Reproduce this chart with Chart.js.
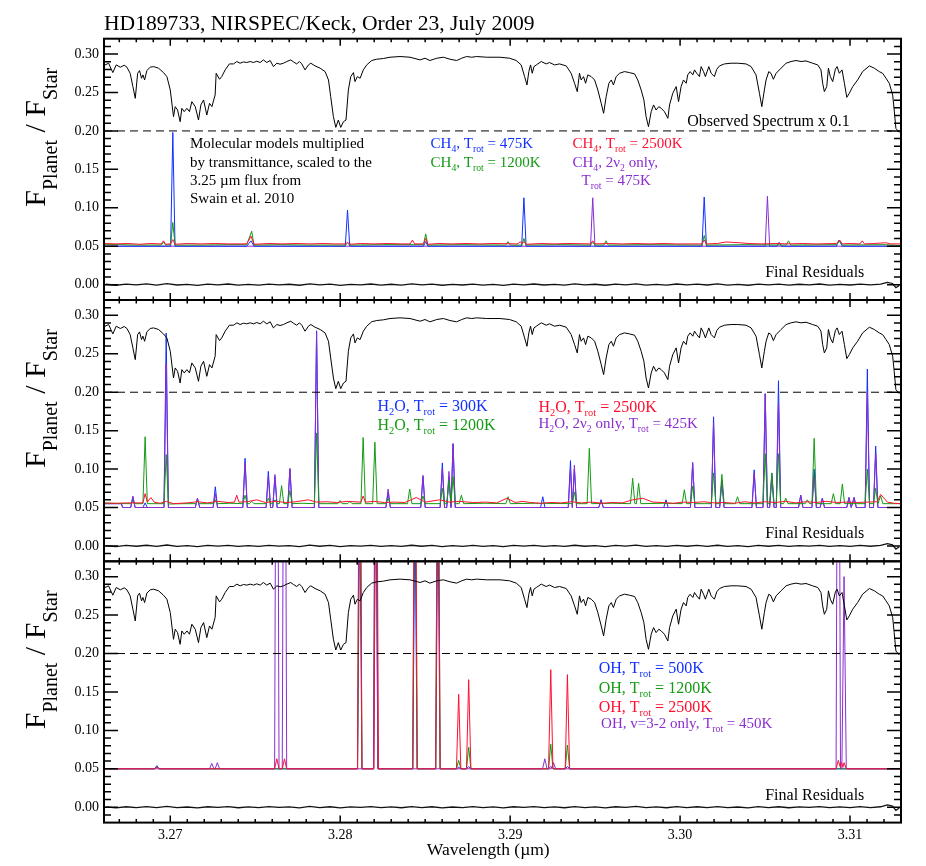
<!DOCTYPE html>
<html><head><meta charset="utf-8">
<script src="https://cdn.jsdelivr.net/npm/chart.js@4.4.0/dist/chart.umd.min.js"></script>
<style>
html,body{margin:0;padding:0;background:#fff;}
#wrap{position:relative;width:926px;height:866px;overflow:hidden;background:#fff;}
#wrap canvas{position:absolute;left:0;top:0;}
</style></head><body>
<div id="wrap">
<canvas id="c1" width="926" height="866"></canvas>
<canvas id="c2" width="926" height="866"></canvas>
<canvas id="c3" width="926" height="866"></canvas>
</div>
<script>
// ---------------- axis values ----------------
const xRange = [3.2661, 3.3130];
const yRange = [-0.02, 0.32];
const xTickValues = [3.27, 3.28, 3.29, 3.30, 3.31];
const yTickValues = [0.00, 0.05, 0.10, 0.15, 0.20, 0.25, 0.30];
const dashedLevel = 0.20;

// ---------------- observed spectrum x 0.1 (same in all panels) ----------------
const obsSpectrum = [
[3.26612,0.2880],[3.26617,0.2859],[3.26637,0.2881],[3.26662,0.2759],[3.26682,0.2859],[3.26706,0.2829],[3.26729,0.2855],[3.26745,0.2829],[3.26764,0.2750],[3.26780,0.2577],[3.26794,0.2424],[3.26808,0.2750],[3.26819,0.2785],[3.26831,0.2685],[3.26839,0.2729],[3.26849,0.2663],[3.26862,0.2785],[3.26882,0.2829],[3.26902,0.2837],[3.26931,0.2816],[3.26960,0.2759],[3.26980,0.2707],[3.27000,0.2533],[3.27019,0.2185],[3.27029,0.2316],[3.27043,0.2272],[3.27058,0.2120],[3.27068,0.2294],[3.27082,0.2251],[3.27098,0.2294],[3.27113,0.2251],[3.27127,0.2381],[3.27147,0.2316],[3.27166,0.2142],[3.27180,0.2338],[3.27196,0.2403],[3.27215,0.2207],[3.27231,0.2359],[3.27245,0.2316],[3.27264,0.2468],[3.27270,0.2750],[3.27290,0.2672],[3.27303,0.2707],[3.27323,0.2794],[3.27348,0.2872],[3.27372,0.2872],[3.27392,0.2903],[3.27411,0.2881],[3.27431,0.2898],[3.27450,0.2890],[3.27470,0.2903],[3.27490,0.2890],[3.27509,0.2907],[3.27529,0.2890],[3.27548,0.2924],[3.27568,0.2890],[3.27588,0.2916],[3.27607,0.2837],[3.27627,0.2881],[3.27646,0.2868],[3.27666,0.2881],[3.27686,0.2903],[3.27709,0.2924],[3.27725,0.2898],[3.27744,0.2872],[3.27760,0.2903],[3.27774,0.2872],[3.27793,0.2794],[3.27813,0.2859],[3.27827,0.2881],[3.27852,0.2846],[3.27882,0.2816],[3.27911,0.2772],[3.27931,0.2663],[3.27944,0.2446],[3.27960,0.2185],[3.27974,0.2046],[3.27989,0.2142],[3.28003,0.2046],[3.28019,0.2120],[3.28034,0.2142],[3.28048,0.2533],[3.28062,0.2707],[3.28078,0.2759],[3.28087,0.2642],[3.28101,0.2707],[3.28117,0.2685],[3.28136,0.2794],[3.28156,0.2859],[3.28185,0.2916],[3.28215,0.2933],[3.28254,0.2942],[3.28293,0.2959],[3.28352,0.2968],[3.28411,0.2959],[3.28470,0.2924],[3.28499,0.2946],[3.28528,0.2916],[3.28568,0.2946],[3.28607,0.2959],[3.28646,0.2933],[3.28685,0.2916],[3.28715,0.2946],[3.28744,0.2968],[3.28774,0.2959],[3.28803,0.2968],[3.28862,0.2959],[3.28940,0.2959],
[3.28997,0.2946],[3.29036,0.2916],[3.29065,0.2859],[3.29085,0.2707],[3.29099,0.2598],[3.29110,0.2772],[3.29120,0.2859],[3.29130,0.2750],[3.29140,0.2837],[3.29154,0.2859],[3.29183,0.2903],[3.29212,0.2872],[3.29232,0.2890],[3.29261,0.2859],[3.29291,0.2872],[3.29330,0.2846],[3.29359,0.2750],[3.29379,0.2620],[3.29395,0.2511],[3.29408,0.2750],[3.29418,0.2663],[3.29432,0.2707],[3.29444,0.2620],[3.29457,0.2729],[3.29477,0.2707],[3.29497,0.2663],[3.29516,0.2533],[3.29536,0.2359],[3.29550,0.2229],[3.29565,0.2446],[3.29581,0.2620],[3.29595,0.2663],[3.29608,0.2598],[3.29624,0.2707],[3.29644,0.2750],[3.29673,0.2772],[3.29702,0.2759],[3.29732,0.2742],[3.29751,0.2663],[3.29771,0.2533],[3.29787,0.2403],[3.29800,0.2185],[3.29814,0.2055],[3.29830,0.2251],[3.29844,0.2338],[3.29859,0.2272],[3.29875,0.2316],[3.29889,0.2294],[3.29908,0.2251],[3.29928,0.2164],[3.29938,0.2338],[3.29957,0.2490],[3.29977,0.2577],[3.29991,0.2381],[3.30006,0.2577],[3.30020,0.2663],[3.30036,0.2620],[3.30045,0.2729],[3.30059,0.2772],[3.30075,0.2729],[3.30085,0.2794],[3.30098,0.2750],[3.30114,0.2707],[3.30124,0.2837],[3.30138,0.2772],[3.30149,0.2707],[3.30159,0.2772],[3.30169,0.2837],[3.30183,0.2750],[3.30202,0.2707],[3.30216,0.2803],[3.30232,0.2846],[3.30261,0.2872],[3.30300,0.2881],[3.30339,0.2881],[3.30388,0.2872],[3.30418,0.2837],[3.30447,0.2729],[3.30467,0.2490],[3.30481,0.2316],[3.30496,0.2533],[3.30506,0.2663],[3.30522,0.2772],[3.30535,0.2750],[3.30549,0.2672],[3.30565,0.2750],[3.30594,0.2816],[3.30624,0.2881],[3.30653,0.2903],[3.30682,0.2916],[3.30712,0.2903],[3.30741,0.2911],[3.30780,0.2881],[3.30810,0.2859],[3.30829,0.2794],[3.30839,0.2620],[3.30849,0.2511],[3.30863,0.2577],[3.30873,0.2816],[3.30884,0.2707],[3.30898,0.2642],[3.30914,0.2803],[3.30924,0.2837],[3.30937,0.2750],[3.30953,0.2794],[3.30967,0.2620],[3.30981,0.2437],[3.30996,0.2490],[3.31016,0.2577],[3.31045,0.2664],[3.31074,0.2772],[3.31114,0.2846],[3.31143,0.2816],[3.31172,0.2772],[3.31192,0.2750],[3.31212,0.2685],[3.31231,0.2620],[3.31251,0.2468],[3.31260,0.2272],[3.31270,0.2033],[3.31290,0.1980]
];

// ---------------- final residuals ----------------
const residuals = [
[3.2662,0.0005],[3.2668,-0.0008],[3.2674,0.0006],[3.2680,-0.0004],[3.2686,0.0009],[3.2692,-0.0006],[3.2698,0.0012],[3.2704,-0.0005],[3.2710,0.0003],[3.2716,-0.0009],[3.2722,0.0006],[3.2728,-0.0003],[3.2734,0.0008],[3.2740,-0.0007],[3.2746,0.0004],[3.2752,-0.0006],[3.2758,0.0007],[3.2764,-0.0002],[3.2770,0.0005],[3.2776,-0.0008],[3.2782,0.0010],[3.2788,-0.0004],[3.2794,0.0006],[3.2800,-0.0009],[3.2806,0.0004],[3.2812,-0.0003],[3.2818,0.0008],[3.2824,-0.0006],[3.2830,0.0005],[3.2836,-0.0007],[3.2842,0.0009],[3.2848,-0.0004],[3.2854,0.0006],[3.2860,-0.0008],[3.2866,0.0003],[3.2872,-0.0005],[3.2878,0.0007],[3.2884,-0.0006],[3.2890,0.0004],[3.2896,-0.0009],[3.2902,0.0006],[3.2908,-0.0003],[3.2914,0.0008],[3.2920,-0.0005],[3.2926,0.0004],[3.2932,-0.0007],[3.2938,0.0009],[3.2944,-0.0004],[3.2950,0.0005],[3.2956,-0.0008],[3.2962,0.0006],[3.2968,-0.0002],[3.2974,0.0010],[3.2980,-0.0006],[3.2986,0.0004],[3.2992,-0.0007],[3.2998,0.0008],[3.3004,-0.0004],[3.3010,0.0006],[3.3016,-0.0005],[3.3022,0.0009],[3.3028,-0.0006],[3.3034,0.0003],[3.3040,-0.0008],[3.3046,0.0007],[3.3052,-0.0004],[3.3058,0.0006],[3.3064,-0.0007],[3.3070,0.0005],[3.3076,-0.0003],[3.3082,0.0008],[3.3088,-0.0006],[3.3094,0.0004],[3.3100,-0.0005],[3.3106,0.0007],[3.3112,-0.0004],[3.3118,0.0006],[3.3122,0.0030],[3.3125,0.0015],[3.3127,-0.0040],[3.3129,-0.0010]
];

// ---------------- panel 1: CH4 models ----------------
const ch4_475K = [[3.2661,0.05],[3.27002,0.05],[3.27015,0.198],[3.27028,0.05],[3.27450,0.05],[3.27475,0.057],[3.27493,0.05],[3.28030,0.05],[3.28043,0.097],[3.28056,0.05],[3.28490,0.05],[3.28503,0.056],[3.28516,0.05],[3.29068,0.05],[3.29081,0.113],[3.29094,0.05],[3.30129,0.05],[3.30142,0.114],[3.30155,0.05],[3.30570,0.05],[3.30583,0.055],[3.30596,0.05],[3.30920,0.05],[3.30935,0.058],[3.30955,0.05],[3.3130,0.05]];
const ch4_1200K = [[3.2661,0.0525],[3.2670,0.052],[3.2680,0.0515],[3.26947,0.0515],[3.26960,0.055],[3.26973,0.0515],[3.27002,0.052],[3.27015,0.081],[3.27028,0.0515],[3.2720,0.0515],[3.2735,0.052],[3.27450,0.052],[3.27479,0.0695],[3.27493,0.0515],[3.2765,0.052],[3.2780,0.0515],[3.28030,0.0515],[3.28043,0.054],[3.28056,0.0515],[3.2825,0.052],[3.28490,0.052],[3.28503,0.066],[3.28516,0.0515],[3.2870,0.052],[3.28974,0.0515],[3.28987,0.056],[3.29000,0.0515],[3.29068,0.0515],[3.29081,0.060],[3.29094,0.0515],[3.2930,0.052],[3.29473,0.0515],[3.29486,0.055],[3.29499,0.0515],[3.29551,0.0515],[3.29564,0.057],[3.29577,0.0515],[3.2980,0.052],[3.30129,0.0515],[3.30142,0.064],[3.30155,0.0515],[3.3040,0.052],[3.30625,0.0515],[3.30638,0.057],[3.30651,0.0515],[3.30920,0.052],[3.30939,0.057],[3.30955,0.0515],[3.3120,0.052],[3.3130,0.051]];
const ch4_2500K = [[3.2661,0.0535],[3.2668,0.053],[3.2675,0.0535],[3.2682,0.0525],[3.2688,0.0535],[3.26947,0.053],[3.26960,0.057],[3.26973,0.0525],[3.27002,0.053],[3.27015,0.0586],[3.27028,0.0525],[3.2710,0.0535],[3.2718,0.053],[3.2726,0.0535],[3.2734,0.053],[3.27450,0.053],[3.27475,0.063],[3.27493,0.0525],[3.2758,0.0535],[3.2766,0.053],[3.2774,0.0535],[3.2782,0.053],[3.2790,0.0535],[3.2797,0.053],[3.28030,0.053],[3.28043,0.055],[3.28056,0.0525],[3.2812,0.0535],[3.2820,0.053],[3.2828,0.0535],[3.2836,0.053],[3.28412,0.053],[3.28425,0.058],[3.28438,0.053],[3.28490,0.053],[3.28503,0.060],[3.28516,0.0525],[3.2858,0.0535],[3.2866,0.053],[3.2874,0.0535],[3.2882,0.053],[3.2890,0.0535],[3.29046,0.053],[3.29059,0.056],[3.29070,0.053],[3.29081,0.056],[3.29094,0.0525],[3.2918,0.0535],[3.2926,0.053],[3.2934,0.0535],[3.29473,0.053],[3.29486,0.057],[3.29499,0.053],[3.2958,0.0535],[3.2966,0.053],[3.2974,0.0535],[3.2982,0.053],[3.2990,0.0535],[3.2998,0.053],[3.30129,0.053],[3.30142,0.058],[3.30155,0.053],[3.3022,0.0535],[3.3027,0.0555],[3.3031,0.055],[3.3035,0.0545],[3.3040,0.0535],[3.3048,0.053],[3.3056,0.0535],[3.3064,0.053],[3.3072,0.0535],[3.3080,0.053],[3.30920,0.0535],[3.30939,0.058],[3.30955,0.053],[3.3100,0.0535],[3.31059,0.053],[3.31072,0.057],[3.31085,0.053],[3.3114,0.0535],[3.31210,0.0545],[3.3124,0.053],[3.3130,0.053]];
const ch4_2v2_475K = [[3.2661,0.05],[3.29473,0.05],[3.29486,0.113],[3.29499,0.05],[3.30501,0.05],[3.30514,0.115],[3.30527,0.05],[3.3130,0.05]];

// ---------------- panel 2: H2O models ----------------
const h2o_300K = [[3.2661,0.055],[3.26712,0.055],[3.26720,0.05],[3.26767,0.05],[3.26780,0.063],[3.26793,0.05],[3.26839,0.05],[3.26852,0.056],[3.26865,0.05],[3.26963,0.05],[3.26976,0.277],[3.26989,0.05],[3.27147,0.05],[3.27160,0.062],[3.27173,0.05],[3.27252,0.05],[3.27265,0.077],[3.27278,0.05],[3.27427,0.05],[3.27440,0.114],[3.27453,0.05],[3.27564,0.05],[3.27577,0.097],[3.27590,0.05],[3.27603,0.05],[3.27616,0.090],[3.27629,0.05],[3.27691,0.05],[3.27704,0.100],[3.27717,0.05],[3.27848,0.05],[3.27861,0.280],[3.27874,0.05],[3.28269,0.05],[3.28282,0.070],[3.28295,0.05],[3.28474,0.05],[3.28487,0.090],[3.28500,0.05],[3.28588,0.05],[3.28601,0.108],[3.28614,0.05],[3.28627,0.05],[3.28640,0.090],[3.28652,0.05],[3.28664,0.133],[3.28677,0.05],[3.29179,0.05],[3.29192,0.064],[3.29205,0.05],[3.29342,0.05],[3.29355,0.111],[3.29366,0.05],[3.29378,0.100],[3.29391,0.05],[3.29522,0.05],[3.29535,0.060],[3.29548,0.05],[3.29904,0.05],[3.29917,0.060],[3.29930,0.05],[3.30061,0.05],[3.30074,0.107],[3.30087,0.05],[3.30184,0.05],[3.30197,0.168],[3.30210,0.05],[3.30233,0.05],[3.30246,0.085],[3.30259,0.05],[3.30423,0.05],[3.30436,0.099],[3.30449,0.05],[3.30488,0.05],[3.30501,0.198],[3.30514,0.05],[3.30527,0.05],[3.30540,0.090],[3.30553,0.05],[3.30566,0.05],[3.30579,0.215],[3.30592,0.05],[3.30697,0.05],[3.30710,0.066],[3.30723,0.05],[3.30776,0.05],[3.30789,0.100],[3.30802,0.05],[3.30824,0.05],[3.30837,0.062],[3.30850,0.05],[3.30981,0.05],[3.30994,0.063],[3.31007,0.05],[3.31011,0.05],[3.31024,0.063],[3.31037,0.05],[3.31089,0.05],[3.31102,0.230],[3.31115,0.05],[3.31138,0.05],[3.31151,0.130],[3.31164,0.05],[3.3130,0.05]];
const h2o_2v2_425K = [[3.2661,0.055],[3.26712,0.055],[3.26720,0.05],[3.26767,0.05],[3.26780,0.065],[3.26793,0.05],[3.26963,0.05],[3.26976,0.237],[3.26989,0.05],[3.27147,0.05],[3.27160,0.062],[3.27173,0.05],[3.27252,0.05],[3.27265,0.068],[3.27278,0.05],[3.27427,0.05],[3.27440,0.108],[3.27453,0.05],[3.27564,0.05],[3.27577,0.090],[3.27590,0.05],[3.27603,0.05],[3.27616,0.093],[3.27629,0.05],[3.27691,0.05],[3.27704,0.101],[3.27717,0.05],[3.27848,0.05],[3.27861,0.278],[3.27874,0.05],[3.28269,0.05],[3.28282,0.074],[3.28295,0.05],[3.28474,0.05],[3.28487,0.092],[3.28500,0.05],[3.28588,0.05],[3.28601,0.100],[3.28614,0.05],[3.28627,0.05],[3.28640,0.097],[3.28652,0.05],[3.28664,0.133],[3.28677,0.05],[3.29342,0.05],[3.29355,0.100],[3.29366,0.05],[3.29378,0.105],[3.29391,0.05],[3.29522,0.05],[3.29535,0.060],[3.29548,0.05],[3.30061,0.05],[3.30074,0.109],[3.30087,0.05],[3.30184,0.05],[3.30197,0.160],[3.30210,0.05],[3.30233,0.05],[3.30246,0.085],[3.30259,0.05],[3.30423,0.05],[3.30436,0.095],[3.30449,0.05],[3.30488,0.05],[3.30501,0.198],[3.30514,0.05],[3.30527,0.05],[3.30540,0.095],[3.30553,0.05],[3.30566,0.05],[3.30579,0.185],[3.30592,0.05],[3.30697,0.05],[3.30710,0.066],[3.30723,0.05],[3.30776,0.05],[3.30789,0.090],[3.30802,0.05],[3.30824,0.05],[3.30837,0.062],[3.30850,0.05],[3.30981,0.05],[3.30994,0.063],[3.31007,0.05],[3.31011,0.05],[3.31024,0.063],[3.31037,0.05],[3.31089,0.05],[3.31102,0.200],[3.31115,0.05],[3.31138,0.05],[3.31151,0.120],[3.31164,0.05],[3.3130,0.05]];
const h2o_1200K = [[3.2661,0.0555],[3.26767,0.055],[3.26780,0.058],[3.26793,0.055],[3.26839,0.055],[3.26852,0.142],[3.26865,0.055],[3.26963,0.055],[3.26976,0.119],[3.26989,0.0545],[3.2708,0.055],[3.27147,0.055],[3.27160,0.058],[3.27173,0.055],[3.27252,0.055],[3.27265,0.060],[3.27278,0.055],[3.2735,0.0555],[3.27427,0.055],[3.27440,0.066],[3.27453,0.055],[3.27466,0.055],[3.27479,0.058],[3.27492,0.055],[3.27564,0.055],[3.27577,0.062],[3.27590,0.055],[3.27603,0.055],[3.27616,0.060],[3.27629,0.055],[3.27642,0.055],[3.27655,0.0785],[3.27668,0.055],[3.27691,0.055],[3.27704,0.072],[3.27717,0.055],[3.2778,0.0555],[3.27848,0.055],[3.27861,0.147],[3.27874,0.055],[3.27986,0.055],[3.27999,0.059],[3.28012,0.055],[3.28044,0.055],[3.28057,0.058],[3.28070,0.055],[3.28122,0.055],[3.28135,0.141],[3.28148,0.055],[3.28191,0.055],[3.28204,0.135],[3.28217,0.055],[3.28269,0.055],[3.28282,0.062],[3.28295,0.055],[3.28396,0.055],[3.28409,0.074],[3.28422,0.055],[3.28474,0.055],[3.28487,0.065],[3.28500,0.055],[3.28588,0.055],[3.28601,0.075],[3.28614,0.055],[3.28627,0.055],[3.28640,0.085],[3.28652,0.056],[3.28664,0.090],[3.28677,0.055],[3.28700,0.055],[3.28713,0.066],[3.28726,0.055],[3.2885,0.0555],[3.28975,0.055],[3.28988,0.064],[3.29001,0.055],[3.2915,0.0555],[3.29365,0.055],[3.29378,0.070],[3.29391,0.055],[3.29453,0.055],[3.29466,0.127],[3.29479,0.055],[3.2960,0.0555],[3.29708,0.055],[3.29721,0.088],[3.29734,0.055],[3.29743,0.055],[3.29756,0.0815],[3.29769,0.055],[3.2990,0.0555],[3.30012,0.055],[3.30025,0.073],[3.30038,0.055],[3.30061,0.055],[3.30074,0.078],[3.30087,0.055],[3.30184,0.055],[3.30197,0.095],[3.30210,0.055],[3.30233,0.055],[3.30246,0.093],[3.30259,0.055],[3.30325,0.055],[3.30338,0.064],[3.30351,0.055],[3.30488,0.055],[3.30501,0.120],[3.30514,0.055],[3.30527,0.055],[3.30540,0.0945],[3.30553,0.055],[3.30566,0.055],[3.30579,0.120],[3.30592,0.055],[3.30609,0.055],[3.30622,0.062],[3.30635,0.055],[3.30736,0.055],[3.30749,0.060],[3.30762,0.055],[3.30776,0.055],[3.30789,0.140],[3.30802,0.055],[3.30889,0.055],[3.30902,0.068],[3.30915,0.055],[3.30942,0.055],[3.30955,0.0807],[3.30968,0.055],[3.31089,0.055],[3.31102,0.100],[3.31115,0.055],[3.31138,0.055],[3.31151,0.075],[3.31164,0.055],[3.31180,0.065],[3.31193,0.055],[3.3130,0.055]];
const h2o_2500K = [[3.2661,0.056],[3.2668,0.0555],[3.2675,0.056],[3.26839,0.056],[3.26852,0.068],[3.26865,0.057],[3.26886,0.063],[3.26905,0.057],[3.2694,0.0555],[3.26976,0.058],[3.2702,0.055],[3.2710,0.056],[3.2716,0.0575],[3.2722,0.056],[3.2728,0.058],[3.2734,0.0565],[3.27378,0.057],[3.27391,0.066],[3.27404,0.057],[3.2745,0.0575],[3.27509,0.060],[3.2756,0.0565],[3.2762,0.058],[3.2768,0.0565],[3.2774,0.0575],[3.27812,0.060],[3.2786,0.057],[3.2792,0.0575],[3.2798,0.0565],[3.2804,0.058],[3.28122,0.057],[3.28135,0.065],[3.28148,0.057],[3.2820,0.058],[3.2826,0.0565],[3.2832,0.057],[3.2838,0.0565],[3.28448,0.063],[3.2850,0.057],[3.28586,0.060],[3.2864,0.057],[3.2870,0.058],[3.2878,0.0565],[3.2886,0.057],[3.2892,0.056],[3.28981,0.062],[3.2903,0.0565],[3.29071,0.058],[3.2912,0.0565],[3.2918,0.0555],[3.2924,0.0565],[3.2930,0.056],[3.2936,0.0575],[3.2942,0.056],[3.2948,0.057],[3.2954,0.0555],[3.2960,0.0565],[3.2966,0.056],[3.29721,0.060],[3.29780,0.062],[3.2984,0.057],[3.2990,0.0565],[3.2996,0.0555],[3.3002,0.057],[3.3008,0.0565],[3.3014,0.0575],[3.3020,0.056],[3.3026,0.0565],[3.3032,0.0555],[3.3038,0.0575],[3.3044,0.056],[3.3050,0.0575],[3.3056,0.0565],[3.3062,0.058],[3.3068,0.056],[3.3074,0.0575],[3.3080,0.0565],[3.3086,0.058],[3.3092,0.0565],[3.3098,0.057],[3.3104,0.0565],[3.3110,0.057],[3.3116,0.0575],[3.31180,0.067],[3.3122,0.057],[3.3126,0.0555],[3.3130,0.055]];

// ---------------- panel 3: OH models ----------------
const oh_500K = [[3.2661,0.05],[3.26908,0.05],[3.26921,0.054],[3.26934,0.05],[3.28102,0.05],[3.28115,0.40],[3.28128,0.05],[3.28196,0.05],[3.28209,0.45],[3.28222,0.05],[3.28427,0.05],[3.28440,0.40],[3.28453,0.05],[3.28562,0.05],[3.28575,0.40],[3.28588,0.05],[3.28684,0.05],[3.28697,0.052],[3.28710,0.05],[3.28743,0.05],[3.28756,0.053],[3.28769,0.05],[3.29226,0.05],[3.29239,0.053],[3.29252,0.05],[3.29324,0.05],[3.29337,0.053],[3.29350,0.05],[3.3130,0.05]];
const oh_1200K = [[3.2661,0.05],[3.26908,0.05],[3.26921,0.052],[3.26934,0.05],[3.28102,0.05],[3.28115,0.60],[3.28128,0.05],[3.28196,0.05],[3.28209,0.60],[3.28222,0.05],[3.28427,0.05],[3.28440,0.60],[3.28453,0.05],[3.28562,0.05],[3.28575,0.60],[3.28588,0.05],[3.28684,0.05],[3.28697,0.061],[3.28710,0.05],[3.28743,0.05],[3.28756,0.078],[3.28769,0.05],[3.29226,0.05],[3.29239,0.082],[3.29252,0.05],[3.29324,0.05],[3.29337,0.081],[3.29350,0.05],[3.3130,0.05]];
const oh_2500K = [[3.2661,0.05],[3.26908,0.05],[3.26921,0.0525],[3.26934,0.05],[3.27614,0.05],[3.27627,0.063],[3.27640,0.05],[3.27659,0.05],[3.27672,0.063],[3.27685,0.05],[3.28102,0.05],[3.28115,0.70],[3.28128,0.05],[3.28199,0.05],[3.28212,0.70],[3.28225,0.05],[3.28427,0.05],[3.28440,0.65],[3.28453,0.05],[3.28562,0.05],[3.28575,0.63],[3.28588,0.05],[3.28684,0.05],[3.28697,0.147],[3.28710,0.05],[3.28743,0.05],[3.28756,0.166],[3.28769,0.05],[3.29226,0.05],[3.29239,0.179],[3.29252,0.05],[3.29324,0.05],[3.29337,0.1726],[3.29350,0.05],[3.30918,0.05],[3.30931,0.061],[3.30943,0.052],[3.30950,0.058],[3.30958,0.052],[3.30965,0.058],[3.30978,0.05],[3.3130,0.05]];
const oh_v32_450K = [[3.2661,0.05],[3.27231,0.05],[3.27244,0.057],[3.27257,0.05],[3.27264,0.05],[3.27277,0.058],[3.27290,0.05],[3.27614,0.05],[3.27627,0.90],[3.27640,0.05],[3.27659,0.05],[3.27672,0.90],[3.27685,0.05],[3.28196,0.05],[3.28209,0.80],[3.28222,0.05],[3.29191,0.05],[3.29204,0.063],[3.29217,0.05],[3.29242,0.05],[3.29255,0.058],[3.29268,0.05],[3.30918,0.05],[3.30931,0.90],[3.30944,0.05],[3.30952,0.05],[3.30965,0.30],[3.30978,0.05],[3.3130,0.05]];

// ---------------- styling ----------------
const FONT = '"Liberation Serif","Times New Roman",serif';
const COL = {blue:'#1230ff', green:'#149a14', red:'#ff1030', purple:'#8a2ed0', black:'#000000'};
const PANEL_TOP = [38.7, 300.0, 561.3];
const PANEL_H = 261.3;
const X_AXIS_H = 30;

function toXY(arr){ return arr.map(p => ({x:p[0], y:p[1]})); }
function lineDS(arr, color, width, dash){
  return {data: toXY(arr), borderColor: color, borderWidth: width||1, borderDash: dash||[], pointRadius:0, fill:false, tension:0};
}

function drawSegs(ctx, x, y, segs, size, color, subScale, subDrop){
  let cx = x;
  ctx.fillStyle = color; ctx.textAlign = 'left'; ctx.textBaseline = 'alphabetic';
  for (const [t,k] of segs){
    const sub = (k === 's');
    const s = sub ? size*subScale : size;
    ctx.font = s + 'px ' + FONT;
    ctx.fillText(t, cx, y + (sub ? subDrop : 0));
    cx += ctx.measureText(t).width;
  }
}

function makeDecor(idx, texts){
  return {
    id: 'decor' + idx,
    afterDraw(chart){
      const ctx = chart.ctx, a = chart.chartArea, xs = chart.scales.x, ys = chart.scales.y;
      ctx.save();
      ctx.strokeStyle = '#000'; ctx.lineWidth = 2;
      ctx.strokeRect(a.left, a.top, a.right - a.left, a.bottom - a.top);
      ctx.lineWidth = 1.5; ctx.beginPath();
      for (let k = 3267; k <= 3312; k++){
        const px = xs.getPixelForValue(k/1000);
        const len = (k % 10 === 0) ? 7 : 3.5;
        ctx.moveTo(px, a.bottom); ctx.lineTo(px, a.bottom - len);
        ctx.moveTo(px, a.top); ctx.lineTo(px, a.top + len);
      }
      for (let k = -1; k <= 31; k++){
        const py = ys.getPixelForValue(k/100);
        const len = (k % 5 === 0) ? 14 : 7;
        ctx.moveTo(a.left, py); ctx.lineTo(a.left + len, py);
        ctx.moveTo(a.right, py); ctx.lineTo(a.right - len, py);
      }
      ctx.stroke();
      for (const t of texts){
        drawSegs(ctx, xs.getPixelForValue(t.lam), ys.getPixelForValue(t.val), t.segs, t.size, t.color, t.sub || 0.65, t.drop || 4);
      }
      ctx.save();
      ctx.translate(45, a.top + 168);
      ctx.rotate(-Math.PI/2);
      drawSegs(ctx, 0, 0, [['F','n'],['Planet','s'],[' / ','n'],['F','n'],['Star','s']], 30, '#000', 20/30, 12);
      ctx.restore();
      if (idx === 0){
        ctx.fillStyle = '#000'; ctx.font = '21.6px ' + FONT; ctx.textAlign = 'left'; ctx.textBaseline = 'alphabetic';
        ctx.fillText('HD189733, NIRSPEC/Keck, Order 23, July 2009', a.left, a.top - 8.7);
      }
      if (idx === 2){
        ctx.fillStyle = '#000'; ctx.font = '17.5px ' + FONT; ctx.textAlign = 'center'; ctx.textBaseline = 'alphabetic';
        ctx.fillText('Wavelength (\u00b5m)', xs.getPixelForValue(3.28871), a.bottom + 32.5);
      }
      ctx.restore();
    }
  };
}

function makePanel(canvasId, idx, datasets, texts){
  const top = PANEL_TOP[idx];
  const bottom = top + PANEL_H;
  const showX = (idx === 2);
  const padBottom = showX ? (866 - bottom - X_AXIS_H) : (866 - bottom);
  const common = [
    lineDS([[xRange[0], dashedLevel],[xRange[1], dashedLevel]], '#000', 1, [8,5]),
    lineDS(obsSpectrum, '#000', 1),
    lineDS(residuals, '#111', 1.3)
  ];
  return new Chart(document.getElementById(canvasId), {
    type: 'line',
    data: {datasets: common.concat(datasets)},
    options: {
      responsive: false, animation: false, devicePixelRatio: 1,
      layout: {padding: {left: 0, right: 25, top: top, bottom: padBottom}},
      plugins: {legend: {display: false}, tooltip: {enabled: false}},
      scales: {
        x: {type: 'linear', min: xRange[0], max: xRange[1], display: showX,
            grid: {display: false, drawTicks: false}, border: {display: false},
            afterBuildTicks: s => { s.ticks = xTickValues.map(v => ({value: v})); },
            afterFit: s => { if (showX) s.height = X_AXIS_H; },
            ticks: {padding: 4, autoSkip: false, maxRotation: 0, color: '#000', font: {family: FONT, size: 14}, callback: v => Number(v).toFixed(2)}},
        y: {type: 'linear', min: yRange[0], max: yRange[1],
            grid: {display: false, drawTicks: false}, border: {display: false},
            afterBuildTicks: s => { s.ticks = yTickValues.map(v => ({value: v})); },
            afterFit: s => { s.width = 104; },
            ticks: {padding: 5, autoSkip: false, color: '#000', font: {family: FONT, size: 14}, callback: v => Number(v).toFixed(2)}}
      }
    },
    plugins: [makeDecor(idx, texts)]
  });
}

const residText = {lam: 3.30501, val: 0.010, segs: [['Final Residuals','n']], size: 16, color: '#000'};

makePanel('c1', 0, [
  lineDS(ch4_2500K, COL.red), lineDS(ch4_1200K, COL.green), lineDS(ch4_475K, COL.blue), lineDS(ch4_2v2_475K, COL.purple)
], [
  {lam: 3.27116, val: 0.1774, segs: [['Molecular models multiplied','n']], size: 15, color: '#000'},
  {lam: 3.27116, val: 0.1534, segs: [['by transmittance, scaled to the','n']], size: 15, color: '#000'},
  {lam: 3.27116, val: 0.1296, segs: [['3.25 \u00b5m flux from','n']], size: 15, color: '#000'},
  {lam: 3.27116, val: 0.1058, segs: [['Swain et al. 2010','n']], size: 15, color: '#000'},
  {lam: 3.28532, val: 0.1774, segs: [['CH','n'],['4','s'],[', T','n'],['rot','s'],[' = 475K','n']], size: 15, color: COL.blue},
  {lam: 3.28532, val: 0.1534, segs: [['CH','n'],['4','s'],[', T','n'],['rot','s'],[' = 1200K','n']], size: 15, color: COL.green},
  {lam: 3.29367, val: 0.1774, segs: [['CH','n'],['4','s'],[', T','n'],['rot','s'],[' = 2500K','n']], size: 15, color: COL.red},
  {lam: 3.29367, val: 0.1534, segs: [['CH','n'],['4','s'],[', 2\u03bd','n'],['2','s'],[' only,','n']], size: 15, color: COL.purple},
  {lam: 3.29420, val: 0.1296, segs: [['T','n'],['rot','s'],[' = 475K','n']], size: 15, color: COL.purple},
  {lam: 3.30042, val: 0.2064, segs: [['Observed Spectrum x 0.1','n']], size: 16, color: '#000'},
  residText
]);

makePanel('c2', 1, [
  lineDS(h2o_2500K, COL.red), lineDS(h2o_1200K, COL.green), lineDS(h2o_2v2_425K, COL.purple), lineDS(h2o_300K, COL.blue)
], [
  {lam: 3.28219, val: 0.1759, segs: [['H','n'],['2','s'],['O, T','n'],['rot','s'],[' = 300K','n']], size: 16, color: COL.blue},
  {lam: 3.28219, val: 0.1508, segs: [['H','n'],['2','s'],['O, T','n'],['rot','s'],[' = 1200K','n']], size: 16, color: COL.green},
  {lam: 3.29167, val: 0.1746, segs: [['H','n'],['2','s'],['O, T','n'],['rot','s'],[' = 2500K','n']], size: 16, color: COL.red},
  {lam: 3.29167, val: 0.1534, segs: [['H','n'],['2','s'],['O, 2\u03bd','n'],['2','s'],[' only, T','n'],['rot','s'],[' = 425K','n']], size: 15, color: COL.purple},
  residText
]);

makePanel('c3', 2, [
  lineDS(oh_2500K, COL.red), lineDS(oh_v32_450K, COL.purple), lineDS(oh_1200K, COL.green), lineDS(oh_500K, COL.blue)
], [
  {lam: 3.29521, val: 0.1742, segs: [['OH, T','n'],['rot','s'],[' = 500K','n']], size: 16, color: COL.blue},
  {lam: 3.29521, val: 0.1490, segs: [['OH, T','n'],['rot','s'],[' = 1200K','n']], size: 16, color: COL.green},
  {lam: 3.29521, val: 0.1243, segs: [['OH, T','n'],['rot','s'],[' = 2500K','n']], size: 16, color: COL.red},
  {lam: 3.29535, val: 0.1027, segs: [['OH, v=3-2 only, T','n'],['rot','s'],[' = 450K','n']], size: 15, color: COL.purple},
  residText
]);
</script>
</body></html>
